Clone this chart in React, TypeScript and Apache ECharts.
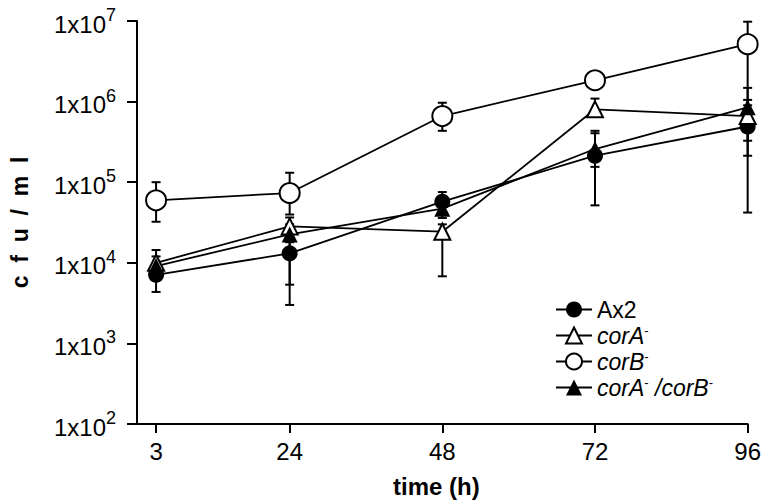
import React, { useEffect, useRef } from "react";
import * as echarts from "echarts";

const FONT = "'Liberation Sans', Arial, Helvetica, sans-serif";

const times = [3, 24, 48, 72, 96];
const yTickValues = [1e2, 1e3, 1e4, 1e5, 1e6, 1e7];

const ax2 = [7100, 13100, 57400, 213000, 491000];
const ax2Low = [4350, 3000, 40000, 155000, 42000];
const ax2High = [9000, 18000, 75500, 434000, 900000];

const corA = [10000, 28300, 24300, 802000, 662000];
const corALow = [8000, 22000, 6800, 700000, 327000];
const corAHigh = [14400, 36500, 30000, 1090000, 1050000];

const corB = [59600, 73400, 662000, 1840000, 5160000];
const corBLow = [32300, 39700, 434000, 1700000, 460000];
const corBHigh = [100000, 131000, 968000, 2000000, 9800000];

const corAB = [9100, 22500, 47000, 258000, 849000];
const corABLow = [7000, 5350, 36000, 51600, 213000];
const corABHigh = [12000, 30000, 58000, 405000, 1480000];

const names = ["Ax2", "corA-", "corB-", "corA-/corB-"];

function errorSeries(id: string, low: number[], high: number[]) {
  return {
    type: "custom",
    name: "err-" + id,
    z: 1,
    silent: true,
    encode: { x: 0, y: [1, 2] },
    data: times.map((t, i) => [t, low[i], high[i]]),
    renderItem: (params: any, api: any) => {
      const x = api.value(0);
      const p1 = api.coord([x, api.value(1)]);
      const p2 = api.coord([x, api.value(2)]);
      const w = 4.5;
      const st = { stroke: "#000", lineWidth: 2 };
      return {
        type: "group",
        children: [
          { type: "line", shape: { x1: p1[0], y1: p1[1], x2: p2[0], y2: p2[1] }, style: st },
          { type: "line", shape: { x1: p1[0] - w, y1: p1[1], x2: p1[0] + w, y2: p1[1] }, style: st },
          { type: "line", shape: { x1: p2[0] - w, y1: p2[1], x2: p2[0] + w, y2: p2[1] }, style: st },
        ],
      };
    },
  };
}

function lineSeries(name: string, values: number[], symbol: string, size: number, filled: boolean) {
  return {
    type: "line",
    name,
    z: 3,
    data: times.map((t, i) => [t, values[i]]),
    symbol,
    symbolSize: size,
    showSymbol: true,
    lineStyle: { color: "#000", width: 1.8 },
    itemStyle: {
      color: filled ? "#000" : "#fff",
      borderColor: "#000",
      borderWidth: filled ? 0 : 2,
      opacity: 1,
    },
  };
}

export default function App() {
  const ref = useRef<HTMLDivElement>(null);
  useEffect(() => {
    const chart = echarts.init(ref.current!, null, { renderer: "svg" });
    const option: any = {
      animation: false,
      backgroundColor: "#fff",
      textStyle: { fontFamily: FONT, color: "#000" },
      grid: { left: 118, right: 13, top: 21, bottom: 75, containLabel: false },
      legend: {
        data: names,
        orient: "vertical",
        left: 550,
        top: 293,
        itemWidth: 36,
        itemHeight: 20,
        itemGap: 3,
        selectedMode: false,
        textStyle: {
          fontFamily: FONT,
          fontSize: 23,
          color: "#000",
          rich: {
            n: { fontFamily: FONT, fontSize: 23, color: "#000" },
            i: { fontFamily: FONT, fontSize: 23, fontStyle: "italic", color: "#000" },
            s: { fontFamily: FONT, fontSize: 13, color: "#000", verticalAlign: "top", padding: [0, 0, 8, 0] },
          },
        },
        formatter: (name: string) => {
          if (name === "Ax2") return "{n|Ax2}";
          if (name === "corA-") return "{i|corA}{s|-}";
          if (name === "corB-") return "{i|corB}{s|-}";
          return "{i|corA}{s|-}{i| /corB}{s|-}";
        },
      },
      xAxis: {
        type: "value",
        min: 0,
        max: 96,
        name: "time (h)",
        nameLocation: "middle",
        nameGap: 50,
        nameTextStyle: { fontFamily: FONT, fontSize: 24, fontWeight: "bold", color: "#000", padding: [0, 12, 0, 0] },
        splitLine: { show: false },
        axisLine: { show: true, lineStyle: { color: "#000", width: 2 } },
        axisTick: { show: true, length: 9, customValues: times, lineStyle: { color: "#000", width: 2 } },
        axisLabel: { customValues: times, fontFamily: FONT, fontSize: 24, color: "#000", margin: 15 },
      },
      yAxis: {
        type: "log",
        logBase: 10,
        min: 100,
        max: 1e7,
        name: "c  f  u  /  m  l",
        nameLocation: "middle",
        nameGap: 106,
        nameTextStyle: { fontFamily: FONT, fontSize: 23, fontWeight: "bold", color: "#000" },
        splitLine: { show: false },
        axisLine: { show: true, lineStyle: { color: "#000", width: 2 } },
        axisTick: { show: true, length: 10, customValues: yTickValues, lineStyle: { color: "#000", width: 2 } },
        axisLabel: {
          customValues: yTickValues,
          margin: 21,
          formatter: (v: number) => "{b|1x10}{s|" + Math.round(Math.log10(v)) + "}",
          rich: {
            b: { fontFamily: FONT, fontSize: 24, color: "#000", verticalAlign: "bottom", padding: [6, 0, 0, 0] },
            s: { fontFamily: FONT, fontSize: 18, color: "#000", verticalAlign: "top" },
          },
        },
      },
      series: [
        errorSeries("ax2", ax2Low, ax2High),
        errorSeries("corA", corALow, corAHigh),
        errorSeries("corB", corBLow, corBHigh),
        errorSeries("corAB", corABLow, corABHigh),
        lineSeries(names[0], ax2, "circle", 16, true),
        lineSeries(names[1], corA, "triangle", 16, false),
        lineSeries(names[2], corB, "circle", 20, false),
        lineSeries(names[3], corAB, "triangle", 16, true),
      ],
    };
    chart.setOption(option);
    return () => chart.dispose();
  }, []);
  return <div ref={ref} style={{ position: "fixed", left: 0, top: 0, width: 764, height: 503 }} />;
}
